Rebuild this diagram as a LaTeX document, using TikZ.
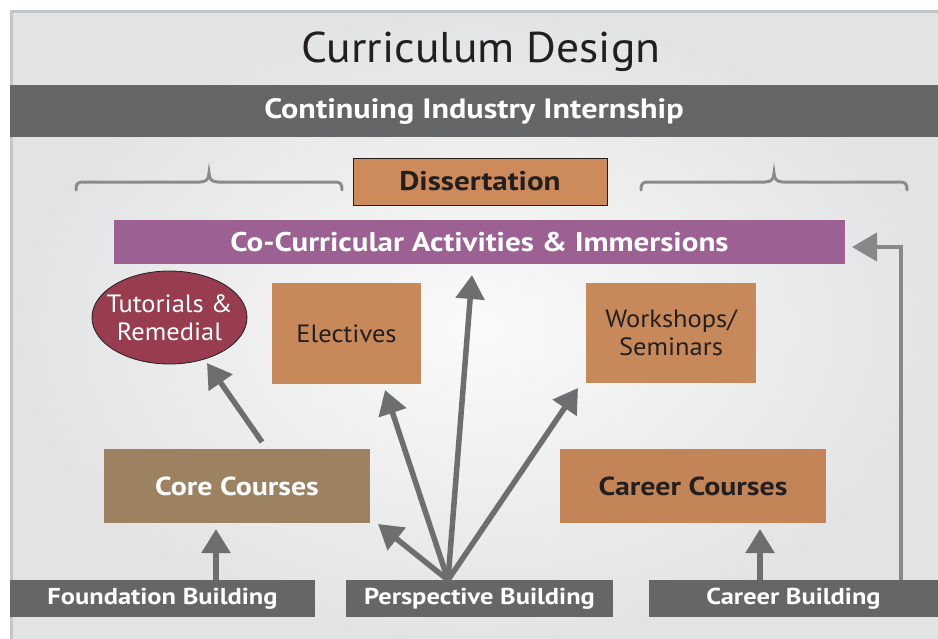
\documentclass[tikz,border=0pt]{standalone}
\usepackage{fontspec}
\setmainfont[FakeStretch=1.06]{PT Sans}
\newfontfamily\boldfam[FakeStretch=1.15]{PT Sans}
\usetikzlibrary{arrows.meta,shapes.geometric}
\definecolor{bgout}{HTML}{E2E3E4}
\definecolor{bgin}{HTML}{FAFAFA}
\definecolor{frame}{HTML}{C4C5C6}
\definecolor{darkbar}{HTML}{646668}
\definecolor{arrowgray}{HTML}{6D6E70}
\definecolor{bracegray}{HTML}{8A8B8D}
\definecolor{lightarrow}{HTML}{87888A}
\definecolor{purplebar}{HTML}{9C6192}
\definecolor{orangebox}{HTML}{C8895A}
\definecolor{dissbox}{HTML}{CD8B5C}
\definecolor{careerbox}{HTML}{C38557}
\definecolor{corebox}{HTML}{9D8262}
\definecolor{tutfill}{HTML}{973D4F}
\definecolor{darktext}{HTML}{231F20}
\tikzset{
  box/.style={rectangle, inner sep=0pt, align=center},
  barbox/.style={box, fill=darkbar, text=white, font=\boldfam\fontsize{23}{26}\selectfont\bfseries},
  fanarrow/.style={draw=arrowgray, line width=5.5pt, -{Triangle[length=24pt,width=28pt]}},
  bracestyle/.style={draw=bracegray, line width=3pt, line cap=round}
}
\begin{document}
\begin{tikzpicture}[x=1pt,y=-1pt]
\useasboundingbox (0,0) rectangle (938,638);
\fill[white] (0,0) rectangle (938,638);
\shade[inner color=bgin, outer color=bgout] (10,10) rectangle (945,645);
\draw[frame, line width=3pt] (11.5,660) -- (11.5,11.5) -- (960,11.5);
% title
\node[box, text=darktext, font=\fontsize{43}{48}\selectfont] (title) at (481,52) {Curriculum Design};
% top bar
\node[box, fill=darkbar, text=white, minimum width=928pt, minimum height=52pt, font=\boldfam\fontsize{28}{32}\selectfont\bfseries] (intern) at (474,111) {Continuing Industry Internship};
% braces
\draw[bracestyle] (76,190) .. controls (76,183) and (78,182) .. (84,182) -- (200,182) .. controls (206,182) and (209,179) .. (209,173) .. controls (209,179) and (212,182) .. (218,182) -- (334,182) .. controls (340,182) and (342,183) .. (342,190);
\draw[bracestyle] (641,190) .. controls (641,183) and (643,182) .. (649,182) -- (765,182) .. controls (771,182) and (774,179) .. (774,173) .. controls (774,179) and (777,182) .. (783,182) -- (899,182) .. controls (905,182) and (907,183) .. (907,190);
% dissertation
\node[box, fill=dissbox, draw=darktext, line width=1pt, minimum width=254pt, minimum height=47pt, text=darktext, font=\boldfam\fontsize{27}{30}\selectfont\bfseries] (diss) at (480,181.5) {Dissertation};
% co-curricular
\node[box, fill=purplebar, minimum width=731pt, minimum height=44pt, text=white, font=\boldfam\fontsize{27}{30}\selectfont\bfseries] (cocur) at (479.5,242) {Co-Curricular Activities \& Immersions};
% tutorials
\node[ellipse, inner sep=0pt, fill=tutfill, draw=darktext, line width=0.8pt, minimum width=155pt, minimum height=93pt, text=white, align=center, font=\fontsize{25}{28}\selectfont] (tut) at (169.5,317.5) {\makebox[0pt]{Tutorials \&}\\\makebox[0pt]{Remedial}};
% electives
\node[box, fill=orangebox, minimum width=149pt, minimum height=101pt, text=darktext, font=\fontsize{25}{28}\selectfont] (elec) at (346.5,333.5) {Electives};
% workshops
\node[box, fill=orangebox, minimum width=170pt, minimum height=100pt, text=darktext, font=\fontsize{25}{28}\selectfont] (work) at (671,333) {Workshops/\\Seminars};
% core
\node[box, fill=corebox, minimum width=266pt, minimum height=74pt, text=white, font=\boldfam\fontsize{26}{29}\selectfont\bfseries] (core) at (237,486) {Core Courses};
% career courses
\node[box, fill=careerbox, minimum width=266pt, minimum height=74pt, text=darktext, font=\boldfam\fontsize{26}{29}\selectfont\bfseries] (career) at (693,486) {Career Courses};
% bottom bars
\node[barbox, minimum width=305pt, minimum height=37pt] (found) at (162.5,598.5) {Foundation Building};
\node[barbox, minimum width=267pt, minimum height=37pt] (persp) at (479.5,598.5) {Perspective Building};
\node[barbox, minimum width=289pt, minimum height=37pt] (carb) at (793.5,598.5) {Career Building};
% coordinates
\coordinate (fan) at (448,580);
\coordinate (foundtop) at (216,580);
\coordinate (coretip) at (216,529);
\coordinate (cbtop) at (760,580);
\coordinate (careertip) at (760,529);
\coordinate (corearrow) at (262,442);
\coordinate (tuttip) at (207,363);
\coordinate (tcore) at (378,524);
\coordinate (telec) at (385,390);
\coordinate (tcocur) at (472,275);
\coordinate (twork) at (578,388);
\coordinate (rline) at (901,580);
\coordinate (rcorner) at (901,247);
\coordinate (rtip) at (852,247);
% arrows
\draw[fanarrow] (foundtop) -- (coretip);
\draw[fanarrow] (cbtop) -- (careertip);
\draw[fanarrow] (corearrow) -- (tuttip);
\draw[fanarrow] (fan) -- (tcore);
\draw[fanarrow] (fan) -- (telec);
\draw[fanarrow] (fan) -- (tcocur);
\draw[fanarrow] (fan) -- (twork);
\draw[draw=lightarrow, line width=4.5pt, -{Triangle[length=25pt,width=28pt]}] (rline) -- (rcorner) -- (rtip);
\end{tikzpicture}
\end{document}
